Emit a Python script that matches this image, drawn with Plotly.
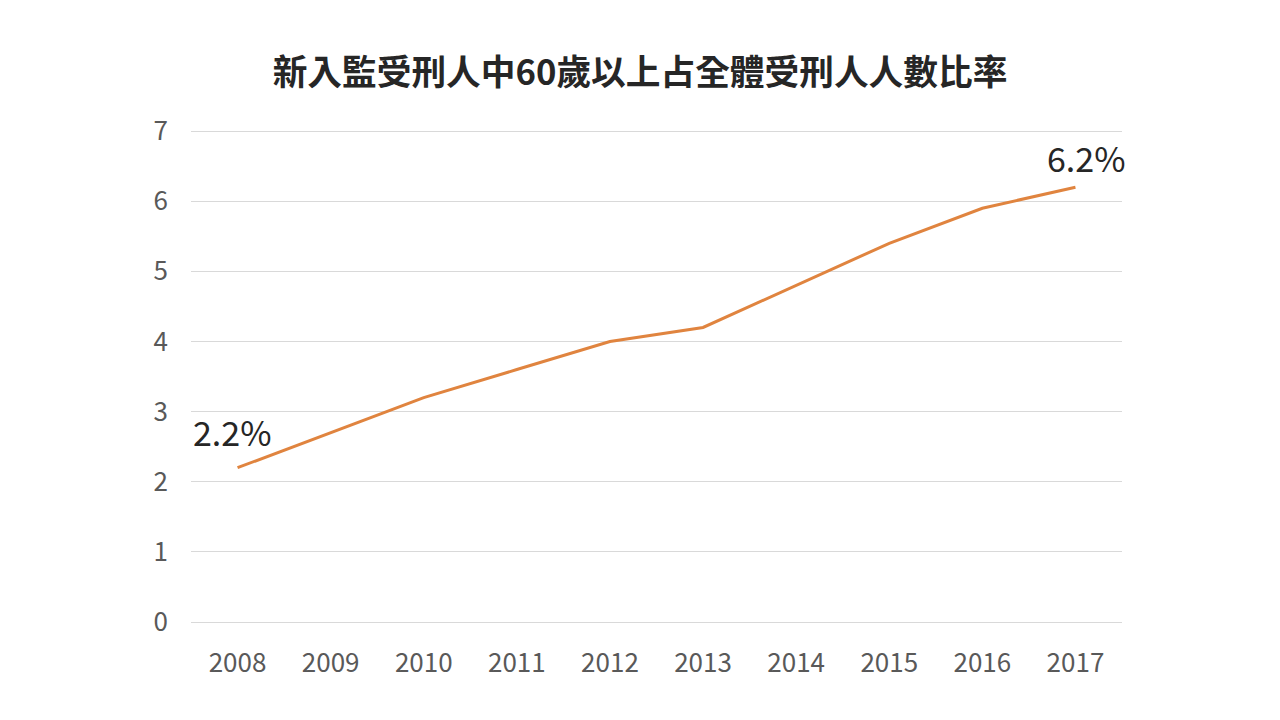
import plotly.graph_objects as go

years = ["2008", "2009", "2010", "2011", "2012", "2013", "2014", "2015", "2016", "2017"]
rates = [2.2, 2.7, 3.2, 3.6, 4.0, 4.2, 4.8, 5.4, 5.9, 6.2]
title = "新入監受刑人中60歲以上占全體受刑人人數比率"
font = "Noto Sans CJK TC"

fig = go.Figure()
fig.add_trace(go.Scatter(
    x=years, y=rates, mode="lines",
    line=dict(color="#E0843F", width=3),
    hoverinfo="x+y", showlegend=False,
))

fig.add_annotation(x=0, y=rates[0], text=f"{rates[0]}%", showarrow=False,
                   xanchor="center", yanchor="middle", yshift=36, xshift=-5,
                   font=dict(family=font, size=34, color="#262626"))
fig.add_annotation(x=len(years) - 1, y=rates[-1], text=f"{rates[-1]}%", showarrow=False,
                   xanchor="center", yanchor="middle", yshift=30, xshift=11,
                   font=dict(family=font, size=34, color="#262626"))

fig.update_layout(
    width=1280, height=720,
    margin=dict(l=191, r=158, t=129, b=98),
    paper_bgcolor="white", plot_bgcolor="white",
    title=dict(text=f"<b>{title}</b>", x=0.5, xanchor="center", y=0.899, yanchor="middle",
               font=dict(family=font, size=34.7, color="#262626")),
    font=dict(family=font),
    xaxis=dict(type="category", range=[-0.5, 9.5], showgrid=False, showline=False,
               ticks="", tickfont=dict(size=26, color="#595959"), ticklabelstandoff=23),
    yaxis=dict(range=[0, 7.03], tickvals=[0, 1, 2, 3, 4, 5, 6, 7], showgrid=True,
               gridcolor="#D9D9D9", gridwidth=1,
               zeroline=True, zerolinecolor="#D9D9D9", zerolinewidth=1, showline=False,
               ticks="", tickfont=dict(size=26, color="#595959"), ticklabelstandoff=22),
)

fig.write_html("out.html", config={"displayModeBar": False},
               post_script="document.body.style.margin='0';")
